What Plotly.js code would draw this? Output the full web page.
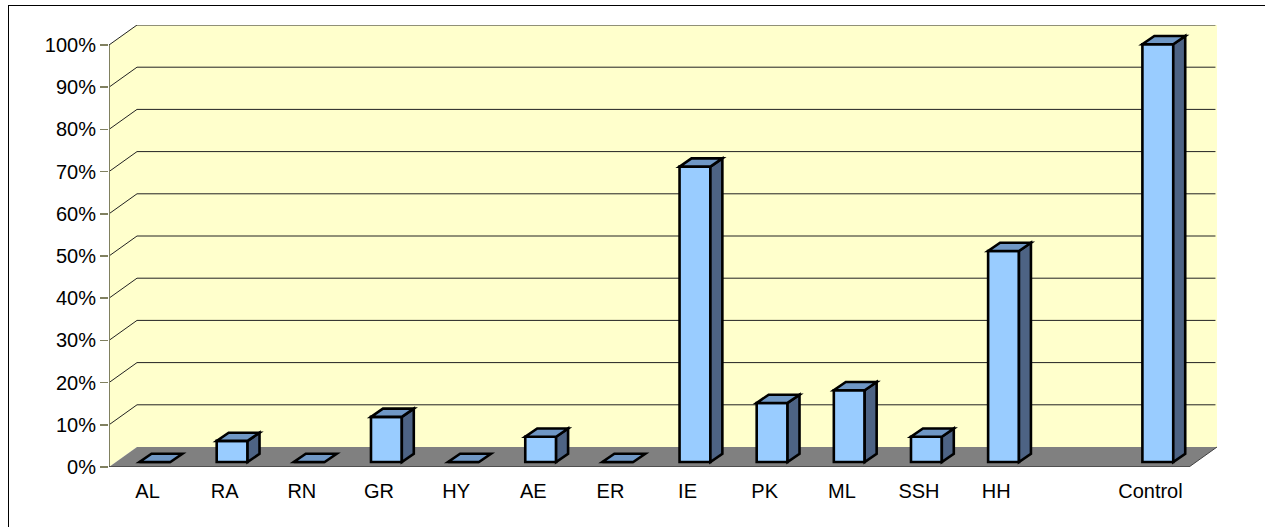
<!DOCTYPE html>
<html>
<head>
<meta charset="utf-8">
<script src="https://cdn.plot.ly/plotly-3.0.1.min.js"></script>
<style>
  html, body { margin: 0; padding: 0; background: #fff; }
  #wrap { position: relative; width: 1265px; height: 527px; overflow: hidden; }
  #chart { width: 1265px; height: 527px; }
  #frame { position: absolute; left: 8px; top: 5px; width: 1300px; height: 600px;
           border-left: 1px solid #000; border-top: 1px solid #000; pointer-events: none; }
</style>
</head>
<body>
<div id="wrap"><div id="chart"></div><div id="frame"></div></div>
<script>
// ---- data ----
const categories = ["AL", "RA", "RN", "GR", "HY", "AE", "ER", "IE", "PK", "ML", "SSH", "HH", "", "Control"];
const values = [0, 0.05, 0, 0.107, 0, 0.06, 0, 0.70, 0.14, 0.17, 0.06, 0.50, null, 0.99];
const yTickValues = [0, 0.1, 0.2, 0.3, 0.4, 0.5, 0.6, 0.7, 0.8, 0.9, 1.0];

// ---- pseudo-3D geometry (in axis units) ----
const N = categories.length;
const WX = 0.363, WY = 0.0474;    // back wall offset
const BX = 0.096, BY = 0.0118;    // bar front-face offset (depth position)
const DX = 0.155, DY = 0.0195;    // bar depth
const BW = 0.40;                  // bar width
const colFront = '#99CCFF', colTop = '#6F97C5', colSide = '#4D6384';
const OUT = 2.6;

const centers = categories.map((c, i) => i + 0.5);
const barX = centers.map(c => c + BX);

const shapes = [];
// left side wall
shapes.push({type: 'path', layer: 'below', xref: 'x', yref: 'y',
  path: `M0,0 L0,1 L${WX},${1 + WY} L${WX},${WY} Z`, fillcolor: '#FFFFCC', line: {width: 0}});
// back wall
shapes.push({type: 'path', layer: 'below', xref: 'x', yref: 'y',
  path: `M${WX},${WY} L${WX},${1 + WY} L${N + WX},${1 + WY} L${N + WX},${WY} Z`, fillcolor: '#FFFFCC', line: {width: 0}});
// floor
shapes.push({type: 'path', layer: 'below', xref: 'x', yref: 'y',
  path: `M0,0 L${WX},${WY} L${N + WX},${WY} L${N},0 Z`, fillcolor: '#808080', line: {width: 0}});
// gridlines (diagonal on side wall + horizontal on back wall)
yTickValues.slice(1).forEach(t => {
  shapes.push({type: 'line', layer: 'below', xref: 'x', yref: 'y', x0: 0, y0: t, x1: WX, y1: t + WY, line: {color: '#222', width: 1}});
  shapes.push({type: 'line', layer: 'below', xref: 'x', yref: 'y', x0: WX, y0: t + WY, x1: N + WX - 0.02, y1: t + WY, line: {color: '#222', width: 1}});
});
// y axis line
shapes.push({type: 'line', layer: 'above', xref: 'x', yref: 'y', x0: 0, y0: 0, x1: 0, y1: 1, line: {color: '#808060', width: 2}});
// x axis line + right floor edge
shapes.push({type: 'line', layer: 'above', xref: 'x', yref: 'y', x0: 0, y0: 0, x1: N, y1: 0, line: {color: '#404040', width: 1.5}});
shapes.push({type: 'line', layer: 'below', xref: 'x', yref: 'y', x0: N, y0: 0, x1: N + WX, y1: WY, line: {color: '#404040', width: 1}});
// x category boundary ticks
for (let i = 0; i <= N; i++) {
  shapes.push({type: 'line', layer: 'above', xref: 'x', yref: 'y', ysizemode: 'pixel', yanchor: 0,
    x0: i, x1: i, y0: 0, y1: -8, line: {color: '#808080', width: 1.5}});
}
// bar top and side faces
values.forEach((v, i) => {
  if (v === null || v === undefined) return;
  const xl = barX[i] - BW / 2, xr = barX[i] + BW / 2;
  const yb = BY, yt = BY + v;
  if (v > 0) {
    shapes.push({type: 'path', layer: 'above', xref: 'x', yref: 'y',
      path: `M${xr},${yb} L${xr},${yt} L${xr + DX},${yt + DY} L${xr + DX},${yb + DY} Z`,
      fillcolor: colSide, line: {color: '#000', width: OUT}});
  }
  shapes.push({type: 'path', layer: 'above', xref: 'x', yref: 'y',
    path: `M${xl},${yt} L${xr},${yt} L${xr + DX},${yt + DY} L${xl + DX},${yt + DY} Z`,
    fillcolor: colTop, line: {color: '#000', width: OUT}});
});

const trace = {
  type: 'bar',
  x: barX,
  y: values,
  base: BY,
  width: BW,
  marker: {color: colFront, line: {color: '#000', width: OUT}},
  hoverinfo: 'skip',
  showlegend: false
};

const layout = {
  width: 1265, height: 527,
  margin: {l: 109, r: 48, t: 25, b: 60},
  paper_bgcolor: '#fff', plot_bgcolor: '#fff',
  font: {family: 'Liberation Sans, Arial, sans-serif', size: 20, color: '#000'},
  showlegend: false,
  xaxis: {
    range: [0, N + WX], showgrid: false, zeroline: false, showline: false,
    tickmode: 'array', tickvals: centers, ticktext: categories, ticks: '',
    ticklabelstandoff: 10,
    tickfont: {size: 20}, fixedrange: true
  },
  yaxis: {
    range: [0, 1 + WY], showgrid: false, zeroline: false, showline: false,
    tickmode: 'array', tickvals: yTickValues, tickformat: '.0%',
    ticks: 'outside', ticklen: 8, tickcolor: '#808060', tickwidth: 1.5,
    tickfont: {size: 20}, fixedrange: true
  },
  shapes: shapes
};

Plotly.newPlot('chart', [trace], layout, {staticPlot: true, displayModeBar: false});
</script>
</body>
</html>
